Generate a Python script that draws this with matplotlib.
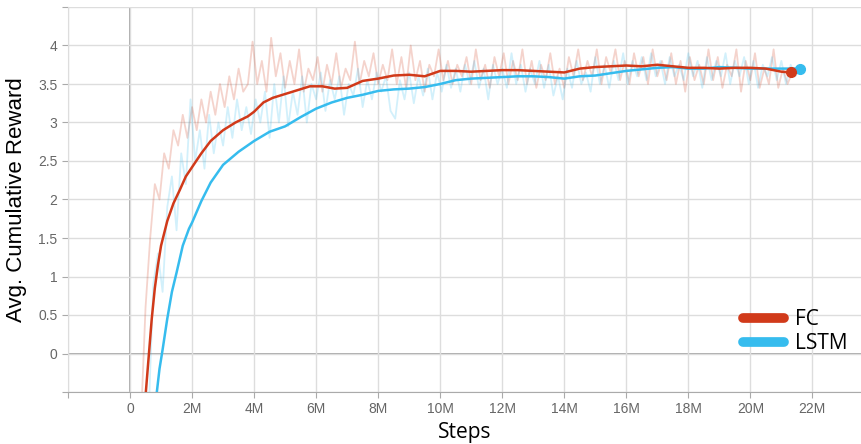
import numpy as np
import matplotlib.pyplot as plt
from matplotlib.lines import Line2D

# smoothed curves (steps in millions, reward)
fc_x = [0.50, 0.60, 0.70, 0.80, 0.90, 1.00, 1.20, 1.40, 1.60, 1.80, 2.00, 2.30, 2.60, 3.00,
        3.40, 3.80, 4.00, 4.30, 4.60, 5.00, 5.40, 5.80, 6.20, 6.60, 7.00, 7.50, 8.00, 8.50,
        9.00, 9.50, 10.0, 10.5, 11.0, 11.5, 12.0, 12.5, 13.0, 13.5, 14.0, 14.5, 15.0, 15.5,
        16.0, 16.5, 17.0, 17.5, 18.0, 18.5, 19.0, 19.5, 20.0, 20.5, 21.0, 21.3]
fc_y = [-0.55, -0.05, 0.45, 0.85, 1.15, 1.40, 1.72, 1.95, 2.12, 2.30, 2.42, 2.60, 2.76, 2.90,
        3.00, 3.08, 3.14, 3.26, 3.32, 3.37, 3.42, 3.47, 3.47, 3.44, 3.45, 3.54, 3.57, 3.61,
        3.62, 3.60, 3.67, 3.67, 3.66, 3.67, 3.68, 3.68, 3.67, 3.66, 3.65, 3.70, 3.72, 3.73,
        3.74, 3.73, 3.75, 3.73, 3.71, 3.71, 3.70, 3.71, 3.71, 3.70, 3.66, 3.65]

lstm_x = [0.85, 0.95, 1.05, 1.20, 1.35, 1.50, 1.70, 1.90, 2.00, 2.30, 2.60, 3.00, 3.50, 4.00,
          4.50, 5.00, 5.50, 6.00, 6.50, 7.00, 7.50, 8.00, 8.50, 9.00, 9.50, 10.0, 10.5, 11.0,
          11.5, 12.0, 12.5, 13.0, 13.5, 14.0, 14.5, 15.0, 15.5, 16.0, 16.5, 17.0, 17.5, 18.0,
          18.5, 19.0, 19.5, 20.0, 20.5, 21.0, 21.6]
lstm_y = [-0.55, -0.20, 0.05, 0.45, 0.80, 1.05, 1.40, 1.62, 1.70, 1.98, 2.22, 2.45, 2.62, 2.76,
          2.88, 2.95, 3.07, 3.18, 3.26, 3.32, 3.36, 3.41, 3.43, 3.44, 3.46, 3.50, 3.55, 3.57,
          3.58, 3.59, 3.60, 3.60, 3.59, 3.57, 3.60, 3.61, 3.64, 3.67, 3.69, 3.71, 3.72, 3.70,
          3.70, 3.72, 3.71, 3.70, 3.70, 3.70, 3.70]

# raw (unsmoothed) values, one every 0.15M
fc_raw_start = 0.35
fc_raw = [-0.9, 0.6, 1.5, 2.2, 2.0, 2.6, 2.4, 2.9, 2.7, 3.1, 2.8, 3.2, 2.9, 3.3, 3.0, 3.4,
          3.1, 3.5, 3.2, 3.6, 3.3, 3.7, 3.4, 3.5, 4.05, 3.5, 3.8, 3.4, 4.1, 3.6, 3.9, 3.45,
          3.8, 3.5, 3.95, 3.4, 3.7, 3.55, 3.85, 3.4, 3.75, 3.5, 3.9, 3.45, 3.7, 3.55, 4.05, 3.5,
          3.8, 3.6, 3.9, 3.5, 3.75, 3.55, 3.95, 3.5, 3.85, 3.45, 4.0, 3.55, 3.8, 3.4, 3.75, 3.6,
          3.95, 3.55, 3.8, 3.5, 3.75, 3.6, 3.85, 3.5, 3.95, 3.55, 3.75, 3.45, 3.85, 3.6, 3.9, 3.5,
          3.8, 3.55, 3.95, 3.5, 3.8, 3.45, 3.75, 3.55, 3.9, 3.5, 3.7, 3.45, 3.85, 3.6, 3.95, 3.55,
          3.8, 3.6, 3.95, 3.5, 3.85, 3.65, 3.95, 3.55, 3.8, 3.5, 3.9, 3.6, 3.85, 3.5, 3.95, 3.6,
          3.8, 3.55, 3.9, 3.5, 3.8, 3.4, 3.85, 3.55, 3.75, 3.5, 3.95, 3.55, 3.85, 3.45, 3.75, 3.6,
          3.95, 3.4, 3.8, 3.55, 3.9, 3.45, 3.7, 3.5, 3.95, 3.45, 3.7, 3.5, 3.65]
lstm_raw_start = 0.60
lstm_raw = [-0.8, 0.9, 1.3, 0.8, 1.9, 2.3, 1.6, 2.6, 2.2, 3.3, 2.5, 2.9, 2.4, 3.1, 2.6, 3.0,
            2.7, 3.2, 2.8, 3.3, 2.9, 3.2, 2.85, 3.3, 3.0, 3.4, 2.8, 3.5, 3.0, 3.6, 2.95, 3.4,
            3.1, 3.6, 3.0, 3.5, 3.3, 3.65, 3.15, 3.55, 3.3, 3.6, 3.1, 3.5, 3.35, 3.7, 3.2, 3.55,
            3.3, 3.65, 3.4, 3.6, 3.15, 3.05, 3.55, 3.3, 3.65, 3.25, 3.6, 3.35, 3.7, 3.3, 3.65, 3.4,
            3.75, 3.45, 3.7, 3.4, 3.75, 3.5, 3.8, 3.45, 3.7, 3.3, 3.75, 3.5, 3.7, 3.45, 3.9, 3.5,
            3.75, 3.4, 3.7, 3.5, 3.8, 3.45, 3.75, 3.35, 3.6, 3.3, 3.7, 3.45, 3.8, 3.5, 3.65, 3.4,
            3.85, 3.5, 3.75, 3.45, 3.8, 3.55, 3.9, 3.5, 3.8, 3.6, 3.85, 3.55, 3.9, 3.6, 3.8, 3.5,
            3.85, 3.6, 3.75, 3.55, 3.9, 3.6, 3.8, 3.45, 3.85, 3.55, 3.8, 3.6, 3.9, 3.5, 3.8, 3.6,
            3.85, 3.5, 3.8, 3.45, 3.75, 3.6, 3.85, 3.55, 3.8, 3.5, 3.75, 3.6, 3.7]

x_ticks = [-2, 0, 2, 4, 6, 8, 10, 12, 14, 16, 18, 20, 22]
x_labels = ["", "0", "2M", "4M", "6M", "8M", "10M", "12M", "14M", "16M", "18M", "20M", "22M"]
y_ticks = [-0.5, 0, 0.5, 1, 1.5, 2, 2.5, 3, 3.5, 4, 4.5]
y_labels = ["", "0", "0.5", "1", "1.5", "2", "2.5", "3", "3.5", "4", ""]

red = "#d13a1a"
blue = "#36bcee"

fig = plt.figure(figsize=(8.62, 4.44), dpi=100)
ax = fig.add_axes([68/862, 52/444, 1 - 68/862, 385/444])

fx = fc_raw_start + 0.15*np.arange(len(fc_raw))
lx = lstm_raw_start + 0.15*np.arange(len(lstm_raw))
ax.plot(fx, fc_raw, color=red, alpha=0.22, lw=1.3, zorder=2)
ax.plot(lx, lstm_raw, color=blue, alpha=0.22, lw=1.3, zorder=2)
ax.plot(lstm_x, lstm_y, color=blue, lw=1.8, zorder=3)
ax.plot(fc_x, fc_y, color=red, lw=1.8, zorder=4)
ax.plot(lstm_x[-1], lstm_y[-1], 'o', color=blue, ms=7, zorder=3)
ax.plot(fc_x[-1], fc_y[-1], 'o', color=red, ms=7, zorder=4)

ax.set_xlim(-2, 23.6)
ax.set_ylim(-0.5, 4.5)
ax.set_xticks(x_ticks)
ax.set_xticklabels(x_labels)
ax.set_yticks(y_ticks)
ax.set_yticklabels(y_labels)
ax.grid(color="#dddddd", lw=1, zorder=0)
ax.axhline(0, color="#999999", lw=1.2, zorder=1)
ax.axvline(0, color="#999999", lw=1.2, zorder=1)
for s in ["top", "right"]:
    ax.spines[s].set_visible(False)
ax.spines["left"].set_color("#dddddd")
ax.spines["bottom"].set_color("#aaaaaa")
ax.tick_params(colors="#aaaaaa", labelcolor="#666666", labelsize=10, length=4)
for lab in ax.get_xticklabels() + ax.get_yticklabels():
    lab.set_family("Liberation Sans")

ax.set_xlabel("Steps", fontsize=15, family="Open Sans", labelpad=4)
ax.set_ylabel("Avg. Cumulative Reward", fontsize=16, family="Liberation Sans", labelpad=8)

handles = [Line2D([], [], color=red, lw=7, solid_capstyle="round"),
           Line2D([], [], color=blue, lw=7, solid_capstyle="round")]
ax.legend(handles, ["FC", "LSTM"], loc="lower right", bbox_to_anchor=(1.005, 0.05),
          frameon=False, handlelength=2.0, handletextpad=0.5, labelspacing=0.15,
          prop={"family": "Open Sans", "size": 15})

fig.savefig("out.png", dpi=100)
